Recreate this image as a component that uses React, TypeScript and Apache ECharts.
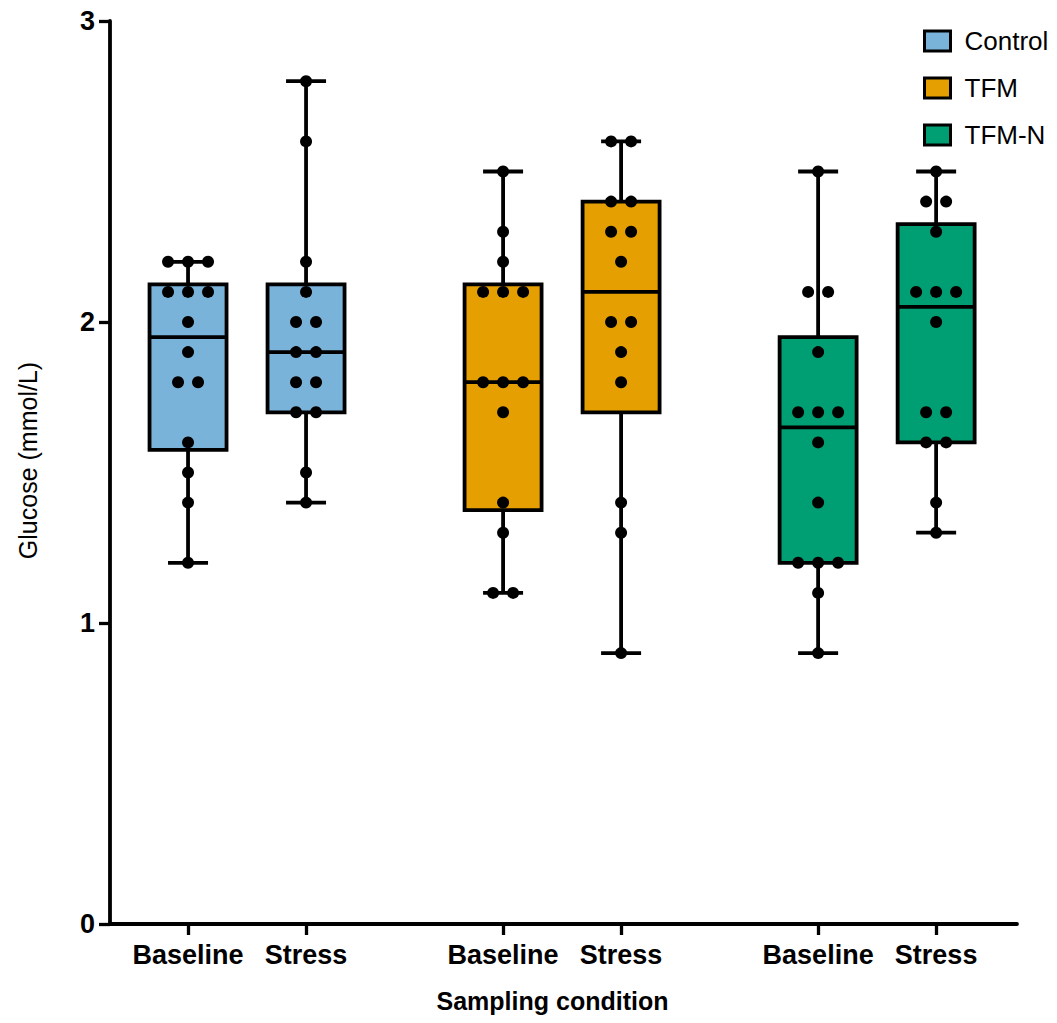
import React, { useEffect, useRef } from "react";
import * as echarts from "echarts";

// Glucose (mmol/L) per animal, 14 per group
const controlBaseline = [2.2, 2.2, 2.2, 2.1, 2.1, 2.1, 2.0, 1.9, 1.8, 1.8, 1.6, 1.5, 1.4, 1.2];
const controlStress = [2.8, 2.6, 2.2, 2.1, 2.0, 2.0, 1.9, 1.9, 1.8, 1.8, 1.7, 1.7, 1.5, 1.4];
const tfmBaseline = [2.5, 2.3, 2.2, 2.1, 2.1, 2.1, 1.8, 1.8, 1.8, 1.7, 1.4, 1.3, 1.1, 1.1];
const tfmStress = [2.6, 2.6, 2.4, 2.4, 2.3, 2.3, 2.2, 2.0, 2.0, 1.9, 1.8, 1.4, 1.3, 0.9];
const tfmnBaseline = [2.5, 2.1, 2.1, 1.9, 1.7, 1.7, 1.7, 1.6, 1.4, 1.2, 1.2, 1.2, 1.1, 0.9];
const tfmnStress = [2.5, 2.4, 2.4, 2.3, 2.1, 2.1, 2.1, 2.0, 1.7, 1.7, 1.6, 1.6, 1.4, 1.3];

const groups = ["Control", "TFM", "TFM-N"];
const conditions = ["Baseline", "Stress"];
const groupValues = [
  [controlBaseline, controlStress],
  [tfmBaseline, tfmStress],
  [tfmnBaseline, tfmnStress],
];
const yTicks = [0, 1, 2, 3];

// layout / style
const groupColors = ["#79B3DA", "#E69F00", "#009E73"];
const PAIR_OFFSET = 0.1873; // half distance between Baseline and Stress, in group units
const X_MIN = 0.565;
const X_MAX = 3.444;
const BOX_W = 77;
const CAP_W = 40;
const DOT_GAP = 20;
const DOT_R = 6;
const LINE_W = 3.8;
const FONT = "'Liberation Sans', Arial, Helvetica, sans-serif";

const positionOf = (g: number, c: number) => g + 1 + (c === 0 ? -PAIR_OFFSET : PAIR_OFFSET);

// quartile by the (n + 1)p rule
function quantile(sorted: number[], p: number) {
  const n = sorted.length;
  const pos = (n + 1) * p;
  const k = Math.floor(pos);
  const f = pos - k;
  if (k < 1) return sorted[0];
  if (k >= n) return sorted[n - 1];
  return sorted[k - 1] + f * (sorted[k] - sorted[k - 1]);
}

function boxStats(vals: number[]) {
  const s = [...vals].sort((a, b) => a - b);
  return [s[0], quantile(s, 0.25), quantile(s, 0.5), quantile(s, 0.75), s[s.length - 1]];
}

const tickPositions: number[] = [];
const tickNames: string[] = [];
groups.forEach((_, g) =>
  conditions.forEach((cond, c) => {
    tickPositions.push(positionOf(g, c));
    tickNames.push(cond);
  })
);

function labelFor(v: number) {
  let best = 0;
  tickPositions.forEach((p, i) => {
    if (Math.abs(p - v) < Math.abs(tickPositions[best] - v)) best = i;
  });
  return tickNames[best];
}

export default function App() {
  const ref = useRef<HTMLDivElement>(null);

  useEffect(() => {
    if (!ref.current) return;
    const chart = echarts.init(ref.current, undefined, { renderer: "svg" });

    const boxSeries = groups.map((name, g) => ({
      name,
      type: "custom",
      clip: false,
      z: 2,
      itemStyle: { color: groupColors[g] },
      encode: { x: 0, y: [1, 2, 3, 4, 5] },
      data: groupValues[g].map((vals, c) => [positionOf(g, c), ...boxStats(vals)]),
      renderItem: (params: any, api: any) => {
        const x = api.value(0);
        const [, yMin] = api.coord([x, api.value(1)]);
        const [, yQ1] = api.coord([x, api.value(2)]);
        const [, yMed] = api.coord([x, api.value(3)]);
        const [, yQ3] = api.coord([x, api.value(4)]);
        const [cx, yMax] = api.coord([x, api.value(5)]);
        const stroke = { stroke: "#000", lineWidth: LINE_W };
        return {
          type: "group",
          children: [
            { type: "line", shape: { x1: cx, y1: yQ3, x2: cx, y2: yMax }, style: stroke },
            { type: "line", shape: { x1: cx, y1: yQ1, x2: cx, y2: yMin }, style: stroke },
            { type: "line", shape: { x1: cx - CAP_W / 2, y1: yMax, x2: cx + CAP_W / 2, y2: yMax }, style: stroke },
            { type: "line", shape: { x1: cx - CAP_W / 2, y1: yMin, x2: cx + CAP_W / 2, y2: yMin }, style: stroke },
            {
              type: "rect",
              shape: { x: cx - BOX_W / 2, y: yQ3, width: BOX_W, height: yQ1 - yQ3 },
              style: { fill: groupColors[g], stroke: "#000", lineWidth: LINE_W },
            },
            { type: "line", shape: { x1: cx - BOX_W / 2, y1: yMed, x2: cx + BOX_W / 2, y2: yMed }, style: stroke },
          ],
        };
      },
    }));

    // individual points, spread sideways where values coincide
    const dotData: number[][] = [];
    groupValues.forEach((pair, g) =>
      pair.forEach((vals, c) => {
        const counts: Record<string, number> = {};
        vals.forEach((v) => (counts[v.toFixed(2)] = (counts[v.toFixed(2)] || 0) + 1));
        const seen: Record<string, number> = {};
        vals.forEach((v) => {
          const key = v.toFixed(2);
          const slot = seen[key] || 0;
          seen[key] = slot + 1;
          dotData.push([positionOf(g, c), v, slot, counts[key]]);
        });
      })
    );

    const dotSeries = {
      name: "points",
      type: "custom",
      clip: false,
      z: 5,
      encode: { x: 0, y: 1 },
      data: dotData,
      renderItem: (params: any, api: any) => {
        const [px, py] = api.coord([api.value(0), api.value(1)]);
        const slot = api.value(2);
        const count = api.value(3);
        return {
          type: "circle",
          shape: { cx: px + (slot - (count - 1) / 2) * DOT_GAP, cy: py, r: DOT_R },
          style: { fill: "#000" },
        };
      },
    };

    chart.setOption({
      animation: false,
      backgroundColor: "#fff",
      grid: { left: 110, right: 40, top: 21, bottom: 99, containLabel: false, outerBoundsMode: "none" },
      legend: {
        orient: "vertical",
        left: 923,
        top: 28,
        padding: 0,
        itemWidth: 26,
        itemHeight: 20,
        itemGap: 21,
        selectedMode: false,
        textStyle: { fontFamily: FONT, fontSize: 26, color: "#000", lineHeight: 26, padding: [0, 0, 0, 9] },
        data: groups.map((name, g) => ({
          name,
          icon: "rect",
          itemStyle: { color: groupColors[g], borderColor: "#000", borderWidth: 3 },
        })),
      },
      xAxis: {
        type: "value",
        min: X_MIN,
        max: X_MAX,
        name: "Sampling condition",
        nameLocation: "middle",
        nameGap: 64,
        nameTextStyle: { fontFamily: FONT, fontSize: 25, fontWeight: "bold", color: "#000", padding: [0, 22, 0, 0] },
        axisLine: { show: true, onZero: false, lineStyle: { color: "#000", width: LINE_W } },
        axisTick: { show: true, customValues: tickPositions, length: 11, lineStyle: { color: "#000", width: 3.3 } },
        axisLabel: {
          customValues: tickPositions,
          formatter: (v: number) => labelFor(v),
          margin: 17,
          fontFamily: FONT,
          fontSize: 27,
          fontWeight: "bold",
          color: "#000",
        },
        splitLine: { show: false },
      },
      yAxis: {
        type: "value",
        min: yTicks[0],
        max: yTicks[yTicks.length - 1],
        interval: 1,
        name: "Glucose (mmol/L)",
        nameLocation: "middle",
        nameRotate: 90,
        nameGap: 70,
        nameTextStyle: { fontFamily: FONT, fontSize: 25, color: "#000", padding: [0, 0, 0, 24] },
        axisLine: { show: true, lineStyle: { color: "#000", width: LINE_W } },
        axisTick: { show: true, length: 11, lineStyle: { color: "#000", width: 3.3 } },
        axisLabel: { margin: 15, fontFamily: FONT, fontSize: 27, fontWeight: "bold", color: "#000" },
        splitLine: { show: false },
      },
      series: [...boxSeries, dotSeries],
    });

    return () => chart.dispose();
  }, []);

  return (
    <div
      ref={ref}
      style={{ position: "fixed", left: 0, top: 0, width: 1057, height: 1023, background: "#fff" }}
    />
  );
}
